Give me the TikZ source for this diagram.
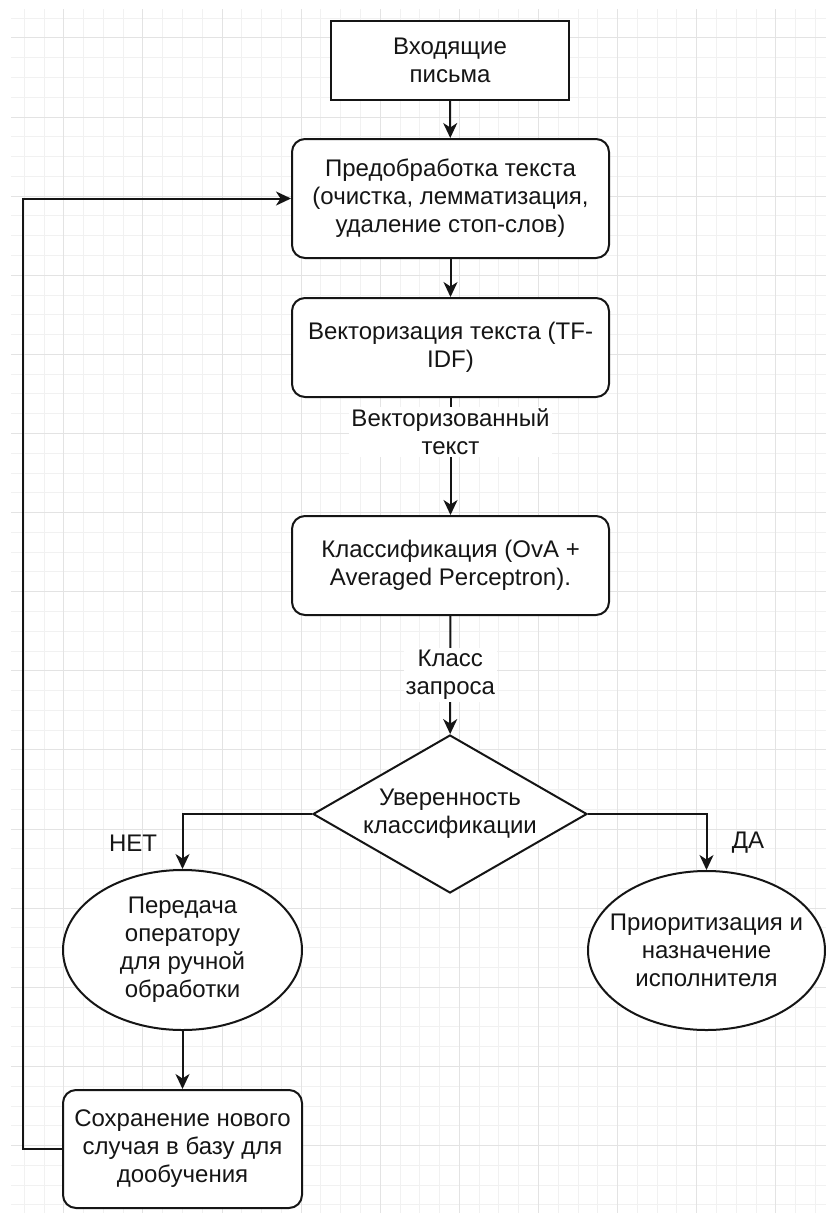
\documentclass[tikz,border=0pt]{standalone}
\usepackage{fontspec}
\setmainfont{Liberation Sans}
\usetikzlibrary{arrows.meta,shapes.geometric}

\definecolor{gridminor}{HTML}{F1F1F1}
\definecolor{gridmajor}{HTML}{E3E3E3}
\definecolor{ink}{HTML}{151515}

\tikzset{
  x=1pt, y=-1pt,
  base/.style={draw=ink, line width=2pt, align=center, text=ink,
    font=\fontsize{24}{28}\selectfont, inner sep=0pt},
  plainbox/.style={base, rectangle, fill=white},
  roundbox/.style={base, rectangle, rounded corners=13pt, fill=white},
  oval/.style={base, ellipse, fill=white, inner xsep=-22pt, inner ysep=-4pt},
  decision/.style={base, diamond, fill=white, aspect=1.734},
  edgelabel/.style={fill=white, text=ink, align=center,
    font=\fontsize{24}{28}\selectfont, inner sep=2pt},
  branchlabel/.style={text=ink, font=\fontsize{24}{28}\selectfont, inner sep=1pt},
  link/.style={draw=ink, line width=2pt,
    -{Stealth[length=15pt,width=14pt,inset=4.5pt]}}
}

\begin{document}
\begin{tikzpicture}
  \useasboundingbox (0,0) rectangle (826,1221);
  \fill[white] (0,0) rectangle (826,1221);

  % background grid
  \begin{scope}
    \clip (11,9) rectangle (826,1213);
    \foreach \i in {0,...,40}
      \draw[gridminor, line width=1pt] ({24.24+\i*19.78},9) -- ({24.24+\i*19.78},1213);
    \foreach \j in {0,...,60}
      \draw[gridminor, line width=1pt] (11,{18.1+\j*19.78}) -- (826,{18.1+\j*19.78});
    \foreach \k in {0,...,9}
      \draw[gridmajor, line width=1pt] ({63.8+\k*79.12},9) -- ({63.8+\k*79.12},1213);
    \foreach \k in {-1,...,13}
      \draw[gridmajor, line width=1pt] (11,{117+\k*79.12}) -- (826,{117+\k*79.12});
  \end{scope}

  % process steps
  \node[plainbox, minimum width=238, minimum height=79] (in) at (450,60.5)
    {Входящие\\письма};
  \node[roundbox, minimum width=317, minimum height=119] (pre) at (450.5,198.5)
    {Предобработка текста\\(очистка, лемматизация,\\удаление стоп-слов)};
  \node[roundbox, minimum width=317, minimum height=99] (vec) at (450.5,347.5)
    {Векторизация текста (TF-\\IDF)};
  \node[roundbox, minimum width=317, minimum height=99] (cls) at (450.5,565.5)
    {Классификация (OvA +\\Averaged Perceptron).};
  \node[decision, minimum width=274, minimum height=158] (dec) at (450,814)
    {Уверенность\\классификации};
  \node[oval, minimum width=239, minimum height=160] (op) at (182.5,950)
    {Передача\\оператору\\для ручной\\обработки};
  \node[oval, minimum width=237, minimum height=159] (pri) at (706.5,950.5)
    {Приоритизация и\\назначение\\исполнителя};
  \node[roundbox, minimum width=239, minimum height=118] (save) at (182.5,1149)
    {Сохранение нового\\случая в базу для\\дообучения};

  \coordinate (back) at (23,1149);

  % connectors
  \draw[link] (in) -- (pre);
  \draw[link] (pre) -- (vec);
  \draw[link] (vec) -- node[edgelabel, pos=0.29] (lvec) {Векторизованный\\текст} (cls);
  \draw[link] (cls) -- node[edgelabel, pos=0.5] (lcls) {Класс\\запроса} (dec);
  \draw[link] (dec.west) -| (op.north);
  \draw[link] (dec.east) -| (pri.north);
  \draw[link] (op) -- (save);
  \draw[link] (save.west) -- (back) |- (pre.west);

  % branch labels
  \node[branchlabel] (no) at (133,843) {НЕТ};
  \node[branchlabel] (yes) at (748,843) {ДА};
\end{tikzpicture}
\end{document}
